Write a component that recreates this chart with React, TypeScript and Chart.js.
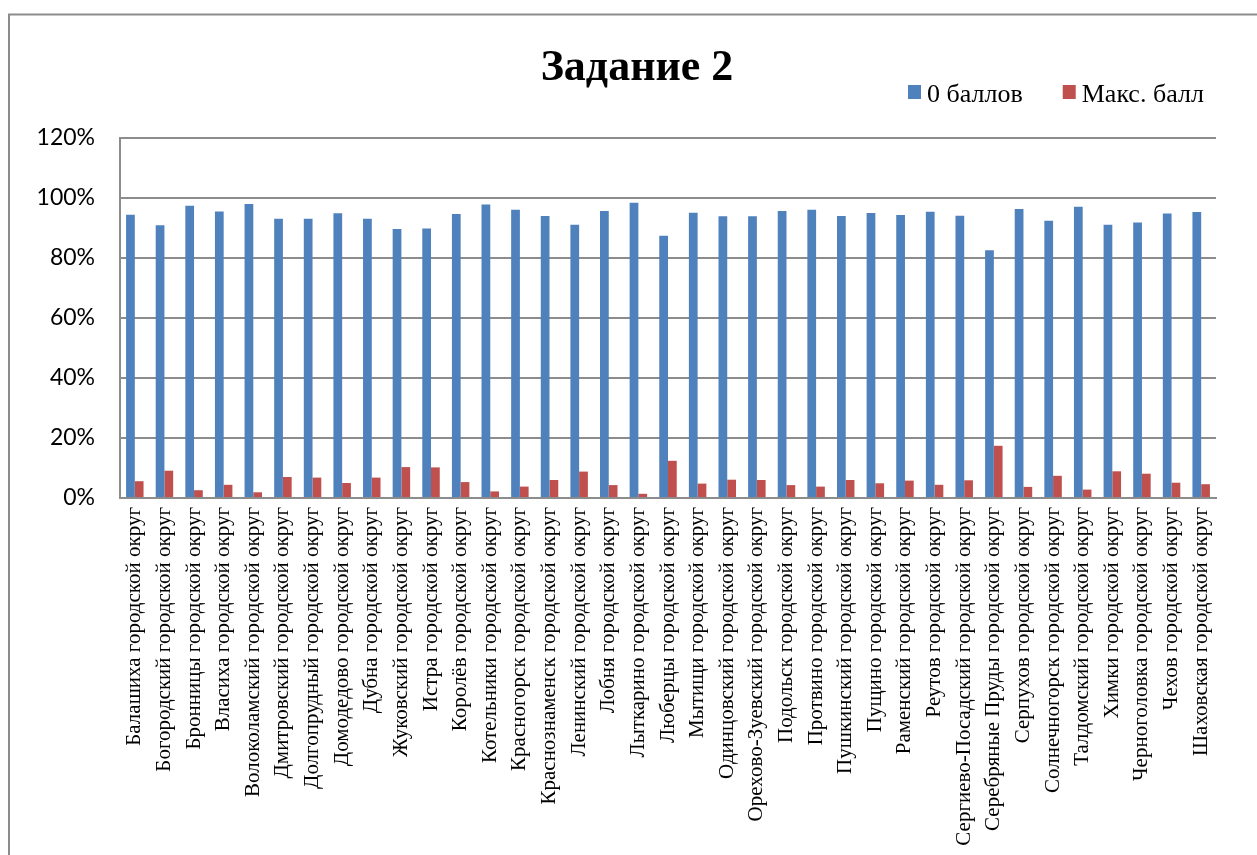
import React, { useEffect, useRef } from "react";
import { Chart, registerables } from "chart.js";

Chart.register(...registerables);

const titleText = "Задание 2";

const categories = [
  "Балашиха городской округ",
  "Богородский городской округ",
  "Бронницы городской округ",
  "Власиха городской округ",
  "Волоколамский городской округ",
  "Дмитровский городской округ",
  "Долгопрудный городской округ",
  "Домодедово городской округ",
  "Дубна городской округ",
  "Жуковский городской округ",
  "Истра городской округ",
  "Королёв городской округ",
  "Котельники городской округ",
  "Красногорск городской округ",
  "Краснознаменск городской округ",
  "Ленинский городской округ",
  "Лобня городской округ",
  "Лыткарино городской округ",
  "Люберцы городской округ",
  "Мытищи городской округ",
  "Одинцовский городской округ",
  "Орехово-Зуевский городской округ",
  "Подольск городской округ",
  "Протвино городской округ",
  "Пушкинский городской округ",
  "Пущино городской округ",
  "Раменский городской округ",
  "Реутов городской округ",
  "Сергиево-Посадский городской округ",
  "Серебряные Пруды городской округ",
  "Серпухов городской округ",
  "Солнечногорск городской округ",
  "Талдомский городской округ",
  "Химки городской округ",
  "Черноголовка городской округ",
  "Чехов городской округ",
  "Шаховская городской округ",
];

const zeroPoints = [
  94.4, 90.9, 97.4, 95.5, 98.0, 93.1, 93.1, 94.9, 93.1, 89.7, 89.8, 94.7, 97.8,
  96.1, 94.0, 91.1, 95.7, 98.4, 87.4, 95.1, 93.9, 93.9, 95.7, 96.1, 94.0, 95.0,
  94.3, 95.4, 94.1, 82.6, 96.3, 92.4, 97.1, 91.1, 91.8, 94.8, 95.3,
];

const maxPoints = [
  5.6, 9.1, 2.6, 4.4, 1.9, 7.0, 6.8, 5.0, 6.8, 10.3, 10.2, 5.3, 2.2,
  3.8, 6.0, 8.8, 4.3, 1.4, 12.4, 4.8, 6.1, 6.0, 4.3, 3.8, 6.0, 4.9,
  5.8, 4.4, 5.9, 17.4, 3.7, 7.4, 2.8, 8.9, 8.1, 5.1, 4.6,
];

const seriesNames = ["0 баллов", "Макс. балл"];
const seriesColors = ["#4F81BD", "#C0504D"];

const yMin = 0;
const yMax = 120;
const yStep = 20;

const decorPlugin = {
  id: "decor",
  beforeDraw(chart: any) {
    const ctx = chart.ctx;
    ctx.save();
    ctx.fillStyle = "#ffffff";
    ctx.fillRect(0, 0, chart.width, chart.height);
    ctx.strokeStyle = "#8c8c8c";
    ctx.lineWidth = 2;
    ctx.strokeRect(9, 14.5, chart.width + 40, chart.height + 40);
    ctx.restore();
  },
  afterDraw(chart: any) {
    const ctx = chart.ctx;
    ctx.save();
    // title
    ctx.fillStyle = "#000";
    ctx.font = "bold 44px 'Liberation Serif'";
    ctx.textAlign = "center";
    ctx.textBaseline = "alphabetic";
    ctx.fillText(titleText, 637, 80);
    // legend
    ctx.font = "26px 'Liberation Serif'";
    ctx.textAlign = "left";
    let x = 908;
    chart.data.datasets.forEach((ds: any) => {
      ctx.fillStyle = ds.backgroundColor;
      ctx.fillRect(x, 85, 13, 14);
      ctx.fillStyle = "#000";
      ctx.fillText(ds.label, x + 19, 101.5);
      x += 19 + ctx.measureText(ds.label).width + 40;
    });
    ctx.restore();
  },
};

export default function App() {
  const ref = useRef<HTMLCanvasElement>(null);

  useEffect(() => {
    if (!ref.current) return;
    const gridColor = "#8c8c8c";
    const chart = new Chart(ref.current, {
      type: "bar",
      data: {
        labels: categories,
        datasets: [
          {
            label: seriesNames[0],
            data: zeroPoints,
            backgroundColor: seriesColors[0],
            borderWidth: 0,
            categoryPercentage: 0.59,
            barPercentage: 1.0,
          },
          {
            label: seriesNames[1],
            data: maxPoints,
            backgroundColor: seriesColors[1],
            borderWidth: 0,
            categoryPercentage: 0.59,
            barPercentage: 1.0,
          },
        ],
      },
      options: {
        responsive: false,
        animation: false,
        events: [],
        layout: { padding: { left: 0, right: 41, top: 138, bottom: 0 } },
        plugins: {
          legend: { display: false },
          title: { display: false },
          tooltip: { enabled: false },
        },
        scales: {
          x: {
            grid: { display: false, drawTicks: false },
            border: { display: true, color: gridColor, width: 2 },
            ticks: {
              autoSkip: false,
              maxRotation: 90,
              minRotation: 90,
              padding: 9,
              color: "#000",
              font: { family: "'Liberation Serif'", size: 21 },
            },
            afterFit: (scale: any) => {
              scale.height = 357;
            },
          },
          y: {
            min: yMin,
            max: yMax,
            grid: { color: gridColor, lineWidth: 2, drawTicks: false },
            border: { display: true, color: gridColor, width: 2 },
            ticks: {
              stepSize: yStep,
              padding: 25,
              color: "#000",
              font: { family: "Lato", size: 23 },
              callback: (v: any) => v + "%",
            },
            afterFit: (scale: any) => {
              scale.width = 120;
            },
          },
        },
      },
      plugins: [decorPlugin],
    });
    return () => chart.destroy();
  }, []);

  return (
    <div style={{ position: "fixed", left: 0, top: 0, width: 1257, height: 855, overflow: "hidden", background: "#fff" }}>
      <canvas ref={ref} width={1257} height={855} style={{ display: "block" }} />
    </div>
  );
}
